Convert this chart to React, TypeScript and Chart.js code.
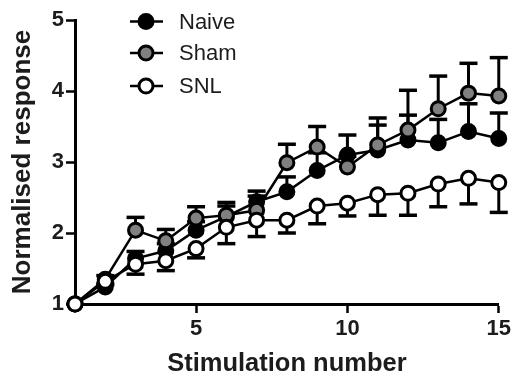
import React, { useEffect, useRef } from "react";
import { Chart, registerables } from "chart.js";
Chart.register(...registerables);

const stimulation = [1, 2, 3, 4, 5, 6, 7, 8, 9, 10, 11, 12, 13, 14, 15];
const naive = [1.0, 1.24, 1.64, 1.75, 2.04, 2.23, 2.44, 2.58, 2.88, 3.1, 3.17, 3.31, 3.27, 3.43, 3.33];
const naiveErr = [0, 0.05, 0.1, 0.1, 0.12, 0.15, 0.15, 0.21, 0.25, 0.28, 0.35, 0.35, 0.33, 0.39, 0.36];
const sham = [1.0, 1.35, 2.04, 1.89, 2.21, 2.25, 2.32, 2.99, 3.21, 2.93, 3.24, 3.45, 3.75, 3.97, 3.93];
const shamErr = [0, 0.05, 0.18, 0.16, 0.16, 0.18, 0.2, 0.26, 0.29, 0.15, 0.38, 0.56, 0.46, 0.42, 0.54];
const snl = [1.0, 1.32, 1.56, 1.61, 1.78, 2.08, 2.18, 2.18, 2.38, 2.42, 2.54, 2.56, 2.69, 2.77, 2.71];
const snlErr = [0, 0.05, 0.14, 0.14, 0.13, 0.23, 0.23, 0.18, 0.25, 0.18, 0.29, 0.31, 0.32, 0.36, 0.42];
const seriesNames = ["Naive", "Sham", "SNL"];
const xTicks = [5, 10, 15];
const yTicks = [1, 2, 3, 4, 5];
const xTitle = "Stimulation number";
const yTitle = "Normalised response";

const FONT = "'Liberation Sans', Arial, Helvetica, sans-serif";
const TEXT = "#1c1c1c";

export default function App() {
  const ref = useRef<HTMLCanvasElement>(null);
  useEffect(() => {
    if (!ref.current) return;
    const errPlugin = {
      id: "errbars",
      beforeDatasetDraw(chart: any, args: any) {
        const ds = chart.data.datasets[args.index];
        const ys = chart.scales.y;
        const ctx = chart.ctx;
        ctx.save();
        ctx.strokeStyle = "#000";
        args.meta.data.forEach((pt: any, i: number) => {
          const e = ds.errors[i];
          if (!e) return;
          const v = ds.data[i].y;
          const y1 = ys.getPixelForValue(v + ds.errDir * e);
          ctx.lineWidth = 3;
          ctx.beginPath();
          ctx.moveTo(pt.x, pt.y);
          ctx.lineTo(pt.x, y1);
          ctx.stroke();
          ctx.lineWidth = 3.5;
          ctx.beginPath();
          ctx.moveTo(pt.x - 9, y1);
          ctx.lineTo(pt.x + 9, y1);
          ctx.stroke();
        });
        ctx.restore();
      },
    };
    const legendPlugin = {
      id: "customLegend",
      afterDraw(chart: any) {
        const ctx = chart.ctx;
        const rows = [21.5, 53, 86];
        chart.data.datasets.forEach((ds: any, i: number) => {
          const y = rows[i];
          ctx.save();
          ctx.strokeStyle = "#000";
          ctx.lineWidth = 2.5;
          ctx.beginPath();
          ctx.moveTo(130, y);
          ctx.lineTo(163, y);
          ctx.stroke();
          ctx.beginPath();
          ctx.arc(146, y, 7, 0, Math.PI * 2);
          ctx.fillStyle = ds.pointBackgroundColor;
          ctx.fill();
          ctx.lineWidth = 3;
          ctx.stroke();
          ctx.fillStyle = TEXT;
          ctx.font = `22px ${FONT}`;
          ctx.textBaseline = "middle";
          ctx.textAlign = "left";
          ctx.fillText(ds.label, 179, y + 1);
          ctx.restore();
        });
      },
    };
    const mk = (label: string, vals: number[], errs: number[], fill: string, dir: number, order: number) => ({
      label,
      data: stimulation.map((x, i) => ({ x, y: vals[i] })),
      errors: errs,
      errDir: dir,
      borderColor: "#000",
      borderWidth: 2.5,
      pointBackgroundColor: fill,
      pointBorderColor: "#000",
      pointBorderWidth: 3,
      pointRadius: 7,
      pointHoverRadius: 7,
      clip: false,
      order,
    });
    const chart = new Chart(ref.current, {
      type: "line",
      data: {
        datasets: [
          mk(seriesNames[0], naive, naiveErr, "#000000", 1, 3),
          mk(seriesNames[1], sham, shamErr, "#808080", 1, 2),
          mk(seriesNames[2], snl, snlErr, "#ffffff", -1, 1),
        ] as any,
      },
      options: {
        animation: false,
        responsive: false,
        layout: { padding: { top: 20, right: 12, bottom: 0, left: 0 } },
        plugins: { legend: { display: false }, tooltip: { enabled: false } },
        scales: {
          x: {
            type: "linear",
            min: 1,
            max: 15,
            afterBuildTicks: (s: any) => {
              s.ticks = xTicks.map((v) => ({ value: v }));
            },
            afterFit: (s: any) => {
              s.height = 76;
            },
            grid: { display: true, drawOnChartArea: false, drawTicks: true, tickLength: 9, tickWidth: 2.5, tickColor: "#000" },
            border: { display: true, color: "#000", width: 3 },
            ticks: { font: { family: FONT, size: 22, weight: "bold" }, color: TEXT, padding: 3, maxRotation: 0, autoSkip: false },
            title: { display: true, text: xTitle, font: { family: FONT, size: 25.5, weight: "bold" }, color: TEXT, padding: { top: 4, bottom: 1 } },
          },
          y: {
            type: "linear",
            min: 1,
            max: 5,
            afterBuildTicks: (s: any) => {
              s.ticks = yTicks.map((v) => ({ value: v }));
            },
            afterFit: (s: any) => {
              s.width = 75;
            },
            grid: { display: true, drawOnChartArea: false, drawTicks: true, tickLength: 9, tickWidth: 2.5, tickColor: "#000" },
            border: { display: true, color: "#000", width: 3 },
            ticks: { font: { family: FONT, size: 22, weight: "bold" }, color: TEXT, padding: 2 },
            title: { display: true, text: yTitle, font: { family: FONT, size: 26, weight: "bold" }, color: TEXT, padding: { top: 7, bottom: 0 } },
          },
        },
      } as any,
      plugins: [errPlugin, legendPlugin],
    });
    return () => chart.destroy();
  }, []);
  return (
    <div style={{ position: "absolute", left: 0, top: 0, width: 514, height: 380, background: "#fff" }}>
      <canvas ref={ref} width={514} height={380} style={{ display: "block" }} />
    </div>
  );
}
